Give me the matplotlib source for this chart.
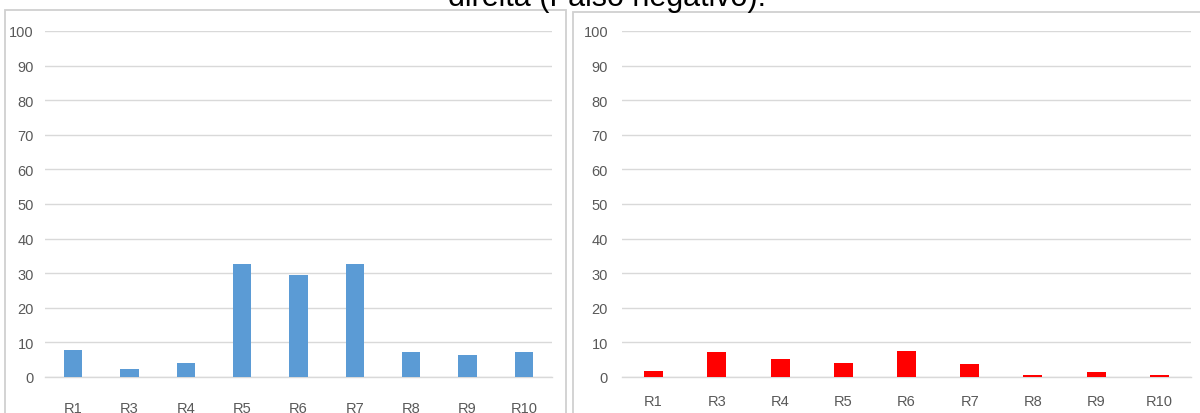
import matplotlib
matplotlib.use('Agg')
import matplotlib.pyplot as plt
from matplotlib.patches import Rectangle

# ===数据
categories = ['R1', 'R3', 'R4', 'R5', 'R6', 'R7', 'R8', 'R9', 'R10']
left_values = [7.8, 2.3, 4.1, 32.8, 29.4, 32.8, 7.2, 6.4, 7.2]
right_values = [1.7, 7.1, 5.3, 4.0, 7.4, 3.7, 0.6, 1.4, 0.6]
y_ticks = list(range(0, 101, 10))
title_text = 'direita (Falso negativo).'

W, H = 1200, 414
fig = plt.figure(figsize=(W / 100, H / 100), dpi=100)
fig.patch.set_facecolor('white')


def px_box(x0, y0, x1, y1):
    # 像素坐标(左上原点) -> figure坐标
    return [x0 / W, 1 - y1 / H, (x1 - x0) / W, (y1 - y0) / H]


def draw_panel(box, values, color, bar_width, font, ypad, xpad):
    ax = fig.add_axes(px_box(*box))
    x = list(range(len(categories)))
    ax.bar(x, values, width=bar_width, color=color, zorder=3)
    ax.set_xlim(-0.5, len(categories) - 0.5)
    ax.set_ylim(0, 100)
    ax.set_yticks(y_ticks)
    ax.set_xticks(x)
    ax.set_xticklabels(categories)
    ax.grid(axis='y', color='#D9D9D9', linewidth=1.0, zorder=0)
    for s in ['top', 'right', 'left']:
        ax.spines[s].set_visible(False)
    ax.spines['bottom'].set_color('#D9D9D9')
    ax.spines['bottom'].set_linewidth(1.0)
    ax.tick_params(length=0, colors='#595959', labelsize=10.5)
    ax.tick_params(axis='y', pad=ypad)
    ax.tick_params(axis='x', pad=xpad)
    for lab in ax.get_xticklabels() + ax.get_yticklabels():
        lab.set_family(font)
    ax.set_facecolor('none')
    return ax


# 面板边框
fig.patches.append(Rectangle((5 / W, -0.1), 561 / W, 1.1 - 11 / H, transform=fig.transFigure,
                             fill=False, edgecolor='#D0D0D0', linewidth=1.3))
fig.patches.append(Rectangle((573 / W, -0.1), 0.6, 1.1 - 13 / H, transform=fig.transFigure,
                             fill=False, edgecolor='#D0D0D0', linewidth=1.3))

draw_panel((45, 32, 552, 378), left_values, '#5B9BD5', 0.32,
           ['Liberation Sans Narrow', 'Liberation Sans', 'DejaVu Sans'], 8, 17)
draw_panel((622, 32, 1191, 378), right_values, '#FF0000', 0.3,
           ['Liberation Sans', 'DejaVu Sans'], 10, 12)

fig.text(607 / W, 1 - 6 / H, title_text, ha='center', va='baseline', fontsize=22,
         family=['Liberation Sans', 'DejaVu Sans'], color='black')

fig.savefig('out.png', dpi=100)
